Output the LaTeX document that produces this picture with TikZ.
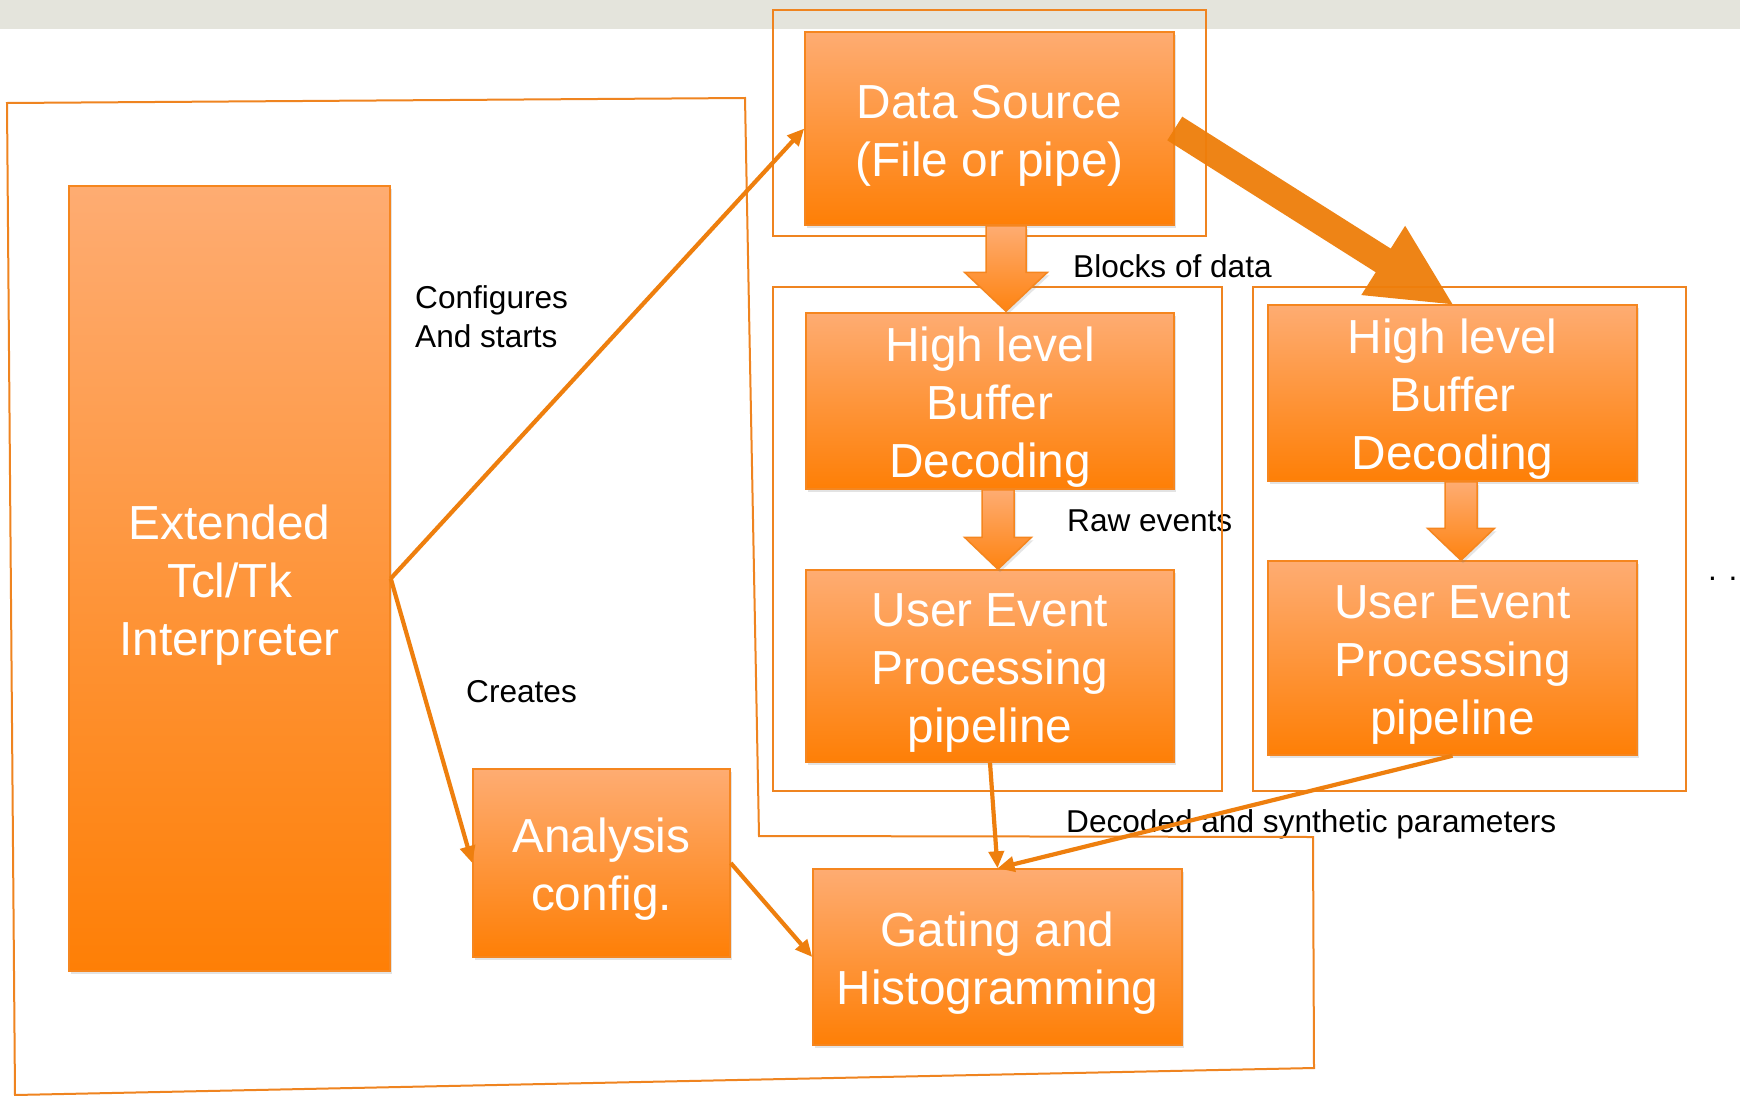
\documentclass[tikz,border=0pt]{standalone}
\usepackage{fontspec}
\setmainfont{Liberation Sans}
\usetikzlibrary{arrows.meta,calc,shadows}
\definecolor{band}{HTML}{E4E4DC}
\definecolor{framecol}{HTML}{EF8420}
\definecolor{boxline}{HTML}{F5861F}
\definecolor{boxtop}{HTML}{FEAC72}
\definecolor{boxbot}{HTML}{FE7F06}
\definecolor{conncol}{HTML}{EE7F0E}
\definecolor{bigcol}{HTML}{EE7E0A}
\tikzset{
  box/.style={draw=boxline, line width=1.5pt, top color=boxtop, bottom color=boxbot,
    text=white, font=\fontsize{47.8}{58}\selectfont, align=center, inner sep=0pt,
    drop shadow={shadow xshift=2pt, shadow yshift=-3pt, opacity=0.22}},
  frame/.style={draw=framecol, line width=2pt},
  lbl/.style={font=\fontsize{31.6}{39}\selectfont, text=black, inner sep=0pt},
  conn/.style={draw=conncol, line width=4.2pt, -{Triangle[length=17pt,width=15pt]}},
  blk/.style={draw=boxline, line width=1.5pt, top color=boxtop, bottom color=boxbot!90!boxtop,
    line join=miter, drop shadow={shadow xshift=2pt, shadow yshift=-3pt, opacity=0.2}},
  bigarrow/.style={fill=bigcol, fill opacity=0.95},
}
\newcommand\tup{\rule{0pt}{47pt}}
\newcommand\fatarrow[6]{%
  \coordinate (fa-s) at (#1);
  \coordinate (fa-t) at (#2);
  \coordinate (fa-b) at ($(fa-t)!#5!(fa-s)$);
  \path[#6] ($(fa-s)!#3!90:(fa-t)$) -- ($(fa-b)!#3!90:(fa-t)$) -- ($(fa-b)!#4!90:(fa-t)$)
    -- (fa-t) -- ($(fa-b)!#4!-90:(fa-t)$) -- ($(fa-b)!#3!-90:(fa-t)$)
    -- ($(fa-s)!#3!-90:(fa-t)$) -- cycle;}
\begin{document}
\begin{tikzpicture}[x=1pt,y=-1pt]
\useasboundingbox (0,0) rectangle (1740,1095);
\fill[white] (0,0) rectangle (1740,1095);
\fill[band] (0,0) rectangle (1740,29);

% labels
\node[lbl, anchor=base west] (lblocks) at (1073,277) {Blocks of data};
\node[lbl, anchor=north west, align=left] (lconf) at (415,285) {Configures\\And starts};
\node[lbl, anchor=base west] (lcreates) at (466,702) {Creates};
\node[lbl, anchor=base west] (lraw) at (1067,531) {Raw events};
\node[lbl, anchor=base west] (ldec) at (1066,832) {Decoded and synthetic parameters};
\node[lbl, anchor=base west] (ldots) at (1708,580) {. .};

% group frames
\draw[frame] (7,103) -- (745,98) -- (759,836) -- (1313,837) -- (1314,1068) -- (15,1095) -- cycle;
\draw[frame] (773,10) rectangle (1206,236);
\draw[frame] (773,287) rectangle (1222,791);
\draw[frame] (1253,287) rectangle (1686,791);

% boxes
\node[box, minimum width=321pt, minimum height=785pt] (ext) at (229.5,578.5) {\tup Extended\\Tcl/Tk\\Interpreter};
\node[box, minimum width=369pt, minimum height=193pt] (ds) at (989.5,128.5) {\tup Data Source\\(File or pipe)};
\node[box, minimum width=368pt, minimum height=176pt] (hlbL) at (990,401) {\tup High level\\Buffer\\Decoding};
\node[box, minimum width=368pt, minimum height=192pt] (uepL) at (990,666) {\tup User Event\\Processing\\pipeline};
\node[box, minimum width=369pt, minimum height=176pt] (hlbR) at (1452.5,393) {\tup High level\\Buffer\\Decoding};
\node[box, minimum width=369pt, minimum height=194pt] (uepR) at (1452.5,658) {\tup User Event\\Processing\\pipeline};
\node[box, minimum width=257pt, minimum height=188pt] (ana) at (601.5,863) {\tup Analysis\\config.};
\node[box, minimum width=369pt, minimum height=176pt] (gat) at (997.5,957) {\tup Gating and\\Histogramming};

% block arrows
\fatarrow{$(ds.south)+(16.5,0)$}{$(hlbL.north)+(16,-1)$}{20pt}{41.5pt}{39pt}{blk}
\fatarrow{$(hlbL.south)+(8,0)$}{$(uepL.north)+(8,0)$}{16pt}{33.5pt}{32pt}{blk}
\fatarrow{$(hlbR.south)+(8.5,0)$}{$(uepR.north)+(8.5,0)$}{16pt}{33.5pt}{32pt}{blk}
\fatarrow{ds.east}{hlbR.north}{14pt}{41pt}{82pt}{bigarrow}

% connectors
\draw[conn] (ext.east) -- (ds.west);
\draw[conn] (ext.east) -- (ana.west);
\draw[conn] (ana.east) -- (gat.west);
\draw[conn] (uepL.south) -- (gat.north);
\draw[conn] (uepR.south) -- (gat.north);
\end{tikzpicture}
\end{document}
